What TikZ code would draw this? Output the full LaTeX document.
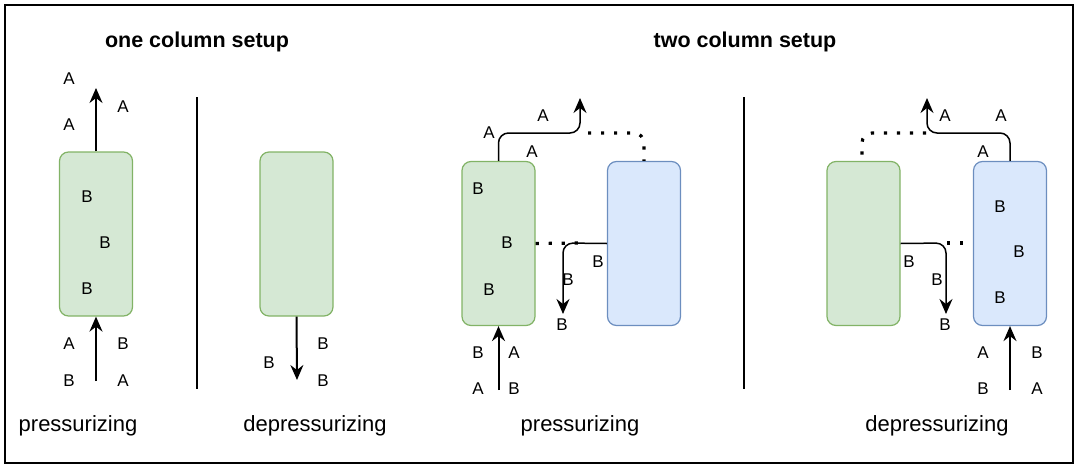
\documentclass[tikz,border=0pt]{standalone}
\usepackage{fontspec}
\setmainfont{Liberation Sans}
\usetikzlibrary{arrows.meta}
\definecolor{gfill}{HTML}{D5E8D4}
\definecolor{gdraw}{HTML}{82B366}
\definecolor{bfill}{HTML}{DAE8FC}
\definecolor{bdraw}{HTML}{6C8EBF}
\begin{document}
\begin{tikzpicture}[x=1pt,y=-1pt,
  col/.style={rounded corners=9, minimum width=73, minimum height=164, line width=1.2, inner sep=0},
  gcol/.style={col, fill=gfill, draw=gdraw},
  bcol/.style={col, fill=bfill, draw=bdraw},
  lbl/.style={font=\fontsize{17}{17}\selectfont, inner sep=0},
  titletxt/.style={font=\fontsize{21.5}{21.5}\selectfont\bfseries, inner sep=0},
  captxt/.style={font=\fontsize{22}{22}\selectfont, inner sep=0},
  arr/.style={line width=2, -{Stealth[length=15,width=13,inset=5]}},
  barr/.style={line width=1.5, rounded corners=10, -{Stealth[length=15,width=13,inset=5]}},
  dots/.style={line width=3.2, dash pattern=on 3.2 off 9.8, rounded corners=10},
  divider/.style={line width=1.8}]
\useasboundingbox (0,0) rectangle (1080,469);
\draw[line width=2] (5,5) rectangle (1073,463);

% titles
\node[titletxt] (t1) at (197,42) {one column setup};
\node[titletxt] (t2) at (745,42) {two column setup};

% dividers
\coordinate (v1a) at (197,97); \coordinate (v1b) at (197,389);
\draw[divider] (v1a) -- (v1b);
\coordinate (v2a) at (744,97); \coordinate (v2b) at (744,389);
\draw[divider] (v2a) -- (v2b);

% ---------- one column, pressurizing
\node[gcol] (c1) at (96,234) {};
\coordinate (c1top) at (96,88);
\coordinate (c1bot) at (96,381);
\draw[arr] (c1.north) -- (c1top);
\draw[arr] (c1bot) -- (c1.south);
\node[lbl] (l1) at (69,79) {A};
\node[lbl] (l2) at (123,107) {A};
\node[lbl] (l3) at (69,125) {A};
\node[lbl] (l4) at (87,197) {B};
\node[lbl] (l5) at (105,243) {B};
\node[lbl] (l6) at (87,289) {B};
\node[lbl] (l7) at (69,344) {A};
\node[lbl] (l8) at (123,344) {B};
\node[lbl] (l9) at (69,381) {B};
\node[lbl] (l10) at (123,381) {A};
\node[captxt] (p1) at (78,426) {pressurizing};

% ---------- one column, depressurizing
\node[gcol] (c2) at (296.5,234) {};
\coordinate (c2bot) at (297,380);
\draw[arr] (c2.south) -- (c2bot);
\node[lbl] (m1) at (323,344) {B};
\node[lbl] (m2) at (269,363) {B};
\node[lbl] (m3) at (323,381) {B};
\node[captxt] (p2) at (315,426) {depressurizing};

% ---------- two column, pressurizing
\node[gcol] (c3) at (498.5,243.5) {};
\node[bcol] (c4) at (644,243.5) {};
\coordinate (c3a) at (498.5,133);
\coordinate (c3b) at (580,133);
\coordinate (c3top) at (580,98);
\draw[barr] (c3.north) -- (c3a) -- (c3b) -- (c3top);
\coordinate (d3a) at (588,133);
\coordinate (d3b) at (644,133);
\draw[dots] (d3a) -- (d3b) -- (c4.north);
\coordinate (d3c) at (580,243);
\draw[dots] (c3.east) -- (d3c);
\coordinate (s3a) at (563,243);
\coordinate (s3b) at (563,314);
\draw[barr] (c4.west) -- (s3a) -- (s3b);
\coordinate (c3bot) at (498.5,390);
\draw[arr] (c3bot) -- (c3.south);
\node[lbl] (n1) at (489,133) {A};
\node[lbl] (n2) at (543,116) {A};
\node[lbl] (n3) at (532,152) {A};
\node[lbl] (n4) at (478,189) {B};
\node[lbl] (n5) at (507,243) {B};
\node[lbl] (n6) at (489,290) {B};
\node[lbl] (n7) at (598,262) {B};
\node[lbl] (n8) at (568,280) {B};
\node[lbl] (n9) at (562,325) {B};
\node[lbl] (n10) at (478,353) {B};
\node[lbl] (n11) at (514,353) {A};
\node[lbl] (n12) at (478,389) {A};
\node[lbl] (n13) at (514,389) {B};
\node[captxt] (p3) at (580,426) {pressurizing};

% ---------- two column, depressurizing
\node[gcol] (c5) at (863.5,243.5) {};
\node[bcol] (c6) at (1010,243.5) {};
\coordinate (c6a) at (1010,133);
\coordinate (c6b) at (927,133);
\coordinate (c6top) at (927,98);
\draw[barr] (c6.north) -- (c6a) -- (c6b) -- (c6top);
\coordinate (d6a) at (926,133);
\coordinate (d6b) at (862,133);
\coordinate (d6c) at (862,155);
\draw[dots] (d6a) -- (d6b) -- (d6c);
\coordinate (s6a) at (946,243);
\coordinate (s6b) at (946,314);
\draw[barr] (c5.east) -- (s6a) -- (s6b);
\coordinate (d6d) at (947,243);
\coordinate (d6e) at (966,243);
\draw[dots] (d6d) -- (d6e);
\coordinate (c6bot) at (1010,390);
\draw[arr] (c6bot) -- (c6.south);
\node[lbl] (q1) at (945,116) {A};
\node[lbl] (q2) at (1001,116) {A};
\node[lbl] (q3) at (983,152) {A};
\node[lbl] (q4) at (1000,207) {B};
\node[lbl] (q5) at (1019,252) {B};
\node[lbl] (q6) at (1000,298) {B};
\node[lbl] (q7) at (909,262) {B};
\node[lbl] (q8) at (937,280) {B};
\node[lbl] (q9) at (945,325) {B};
\node[lbl] (q10) at (983,353) {A};
\node[lbl] (q11) at (1037,353) {B};
\node[lbl] (q12) at (983,389) {B};
\node[lbl] (q13) at (1037,389) {A};
\node[captxt] (p4) at (937,426) {depressurizing};
\end{tikzpicture}
\end{document}
